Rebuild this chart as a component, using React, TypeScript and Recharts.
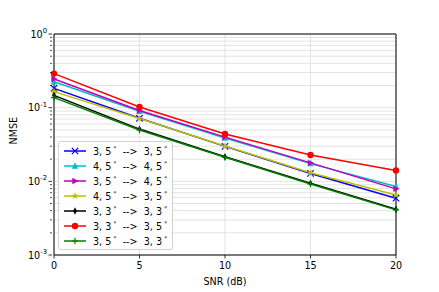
import { LineChart, Line, XAxis, YAxis, CartesianGrid, ReferenceArea } from 'recharts';

const snr = [0, 5, 10, 15, 20];

const a35to35 = [0.183, 0.0717, 0.0298, 0.0128, 0.0059];
const a45to45 = [0.225, 0.0895, 0.0388, 0.0174, 0.0085];
const a35to45 = [0.245, 0.0915, 0.0398, 0.0178, 0.0079];
const a45to35 = [0.165, 0.0712, 0.0302, 0.0131, 0.00653];
const a33to33 = [0.147, 0.0512, 0.0216, 0.0094, 0.00418];
const a33to35 = [0.29, 0.102, 0.044, 0.0228, 0.014];
const a35to33 = [0.137, 0.0498, 0.0212, 0.0092, 0.0041];

const xTicks = [0, 5, 10, 15, 20];
const yMajor = [0.001, 0.01, 0.1, 1];
const yMinor = [2, 3, 4, 5, 6, 7, 8, 9].flatMap(m => [0.001 * m, 0.01 * m, 0.1 * m]);

const series = [
  { key: 'a', from: '3, 5', to: '3, 5', values: a35to35, color: '#0000ff', marker: 'x' },
  { key: 'b', from: '4, 5', to: '4, 5', values: a45to45, color: '#00bfbf', marker: '^' },
  { key: 'c', from: '3, 5', to: '4, 5', values: a35to45, color: '#bf00bf', marker: '>' },
  { key: 'd', from: '4, 5', to: '3, 5', values: a45to35, color: '#bfbf00', marker: '*' },
  { key: 'e', from: '3, 3', to: '3, 3', values: a33to33, color: '#000000', marker: 'd' },
  { key: 'f', from: '3, 3', to: '3, 5', values: a33to35, color: '#ff0000', marker: 'o' },
  { key: 'g', from: '3, 5', to: '3, 3', values: a35to33, color: '#008000', marker: '+' },
];

const data = snr.map((x, i) => {
  const row: Record<string, number> = { snr: x };
  series.forEach(s => { row[s.key] = s.values[i]; });
  return row;
});

const font = 'DejaVu Sans, sans-serif';
const fs = 9.6;

function Marker({ cx, cy, type, color }: { cx: number; cy: number; type: string; color: string }) {
  const r = 3.2;
  switch (type) {
    case 'x':
      return (
        <path d={`M${cx - r},${cy - r}L${cx + r},${cy + r}M${cx - r},${cy + r}L${cx + r},${cy - r}`} stroke={color} strokeWidth={1.2} />
      );
    case '^':
      return <polygon points={`${cx},${cy - r - 0.5} ${cx - r},${cy + r - 0.5} ${cx + r},${cy + r - 0.5}`} fill={color} />;
    case '>':
      return <polygon points={`${cx + r + 0.5},${cy} ${cx - r + 0.5},${cy - r} ${cx - r + 0.5},${cy + r}`} fill={color} />;
    case '*': {
      const pts: string[] = [];
      for (let k = 0; k < 10; k++) {
        const ang = -Math.PI / 2 + (k * Math.PI) / 5;
        const rr = k % 2 === 0 ? r + 0.6 : (r + 0.6) * 0.42;
        pts.push(`${cx + rr * Math.cos(ang)},${cy + rr * Math.sin(ang)}`);
      }
      return <polygon points={pts.join(' ')} fill={color} />;
    }
    case 'd':
      return <polygon points={`${cx},${cy - r - 0.5} ${cx + r * 0.6},${cy} ${cx},${cy + r + 0.5} ${cx - r * 0.6},${cy}`} fill={color} />;
    case 'o':
      return <circle cx={cx} cy={cy} r={r} fill={color} />;
    case '+':
      return (
        <path d={`M${cx - r},${cy}L${cx + r},${cy}M${cx},${cy - r}L${cx},${cy + r}`} stroke={color} strokeWidth={1.2} />
      );
    default:
      return null;
  }
}

function YTick(props: any) {
  const { x, y, payload } = props;
  const v: number = payload.value;
  const exp = Math.round(Math.log10(v));
  const isMajor = Math.abs(Math.log10(v) - exp) < 1e-6;
  if (!isMajor) {
    return <line x1={x + 4} x2={x + 6} y1={y} y2={y} stroke="#000" strokeWidth={0.7} />;
  }
  return (
    <g>
      <line x1={x + 2.5} x2={x + 6} y1={y} y2={y} stroke="#000" strokeWidth={0.8} />
      <text x={x + 1} y={y + 3.5} textAnchor="end" fontSize={fs} fontFamily={font} fill="#000">
        <tspan>10</tspan>
        <tspan dy={-4.5} fontSize={6.8}>{exp}</tspan>
      </text>
    </g>
  );
}

function XTick(props: any) {
  const { x, y, payload } = props;
  return (
    <g>
      <line x1={x} x2={x} y1={y - 8} y2={y - 4.5} stroke="#000" strokeWidth={0.8} />
      <text x={x} y={y + 6} textAnchor="middle" fontSize={fs} fontFamily={font} fill="#000">
        {payload.value}
      </text>
    </g>
  );
}

function Deg() {
  return <sup style={{ fontSize: 6.5, verticalAlign: 4, marginLeft: 2 }}>°</sup>;
}

function LegendBox() {
  return (
    <div
      style={{
        position: 'absolute',
        left: 58,
        top: 141,
        border: '1px solid #d0d0d0',
        borderRadius: 3,
        background: 'rgba(255,255,255,0.85)',
        padding: '1px 5px 1px 4px',
        fontFamily: font,
        fontSize: fs,
        lineHeight: '15px',
      }}
    >
      {series.map(s => (
        <div key={s.key} style={{ display: 'flex', alignItems: 'center', height: 15 }}>
          <svg width={24} height={12} style={{ marginRight: 6 }}>
            <line x1={1} x2={23} y1={6} y2={6} stroke={s.color} strokeWidth={1.5} />
            <Marker cx={12} cy={6} type={s.marker} color={s.color} />
          </svg>
          <span style={{ whiteSpace: 'pre' }}>
            {s.from}<Deg />{'  -->  '}{s.to}<Deg />
          </span>
        </div>
      ))}
    </div>
  );
}

export default function App() {
  return (
    <div style={{ position: 'absolute', left: 0, top: 0, width: 439, height: 292, background: '#fff' }}>
      <LineChart width={439} height={292} data={data} margin={{ top: 34, right: 43, left: 0, bottom: 0 }}>
        <CartesianGrid stroke="#dcdcdc" strokeWidth={0.8} verticalValues={xTicks} horizontalValues={[...yMajor, ...yMinor]} />
        <XAxis
          dataKey="snr"
          type="number"
          domain={[0, 20]}
          ticks={xTicks}
          tick={<XTick />}
          tickLine={false}
          axisLine={false}
          height={37}
          label={{ value: 'SNR (dB)', position: 'insideBottom', offset: 7, fontSize: fs, fontFamily: font, fill: '#000' }}
        />
        <YAxis
          scale="log"
          type="number"
          domain={[0.001, 1]}
          ticks={[...yMajor, ...yMinor]}
          allowDataOverflow
          tick={<YTick />}
          tickLine={false}
          axisLine={false}
          width={54}
          interval={0}
          label={{ value: 'NMSE', angle: -90, position: 'insideLeft', offset: 14, fontSize: fs, fontFamily: font, fill: '#000' }}
        />
        <ReferenceArea x1={0} x2={20} y1={0.001} y2={1} fill="none" stroke="#000" strokeWidth={1} ifOverflow="visible" />
        {series.map(s => (
          <Line
            key={s.key}
            dataKey={s.key}
            name={`${s.from}° --> ${s.to}°`}
            stroke={s.color}
            strokeWidth={1.5}
            isAnimationActive={false}
            dot={(p: any) => <Marker key={`${s.key}-${p.index}`} cx={p.cx} cy={p.cy} type={s.marker} color={s.color} />}
            activeDot={false}
          />
        ))}
      </LineChart>
      <LegendBox />
    </div>
  );
}
